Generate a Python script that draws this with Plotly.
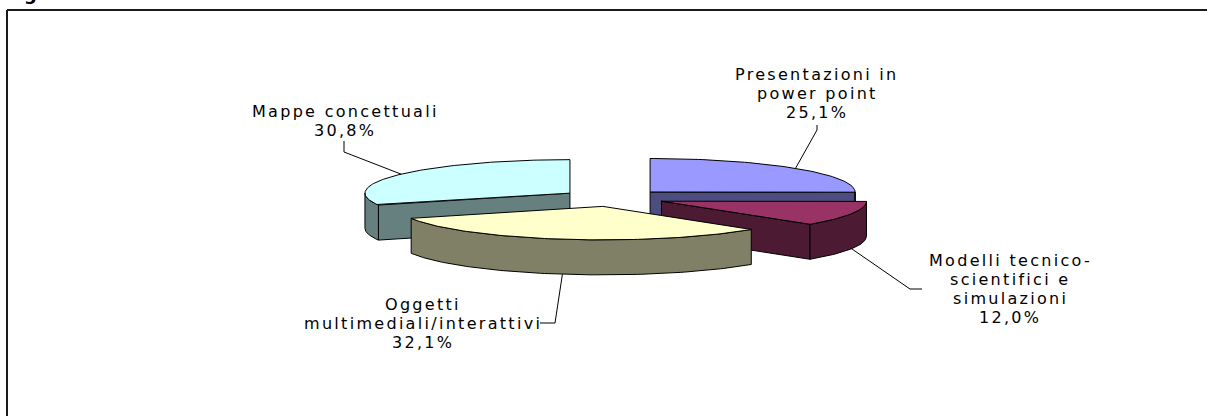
import numpy as np
import plotly.graph_objects as go

# ---- data -------------------------------------------------------------
categories = [
    "Presentazioni in power point",
    "Modelli tecnico-scientifici e simulazioni",
    "Oggetti multimediali/interattivi",
    "Mappe concettuali",
]
label_lines = [
    ["Presentazioni in", "power point"],
    ["Modelli tecnico-", "scientifici e", "simulazioni"],
    ["Oggetti", "multimediali/interattivi"],
    ["Mappe concettuali"],
]
values = [25.1, 12.0, 32.1, 30.8]
top_colors = ["#9999FF", "#993366", "#FFFFCC", "#CCFFFF"]
side_colors = ["#4D4D80", "#4D1A33", "#808066", "#668080"]

# ---- 3-D pie geometry (pixel space) ------------------------------------
W, H = 1207, 416
CX, CY = 613.0, 198.0      # pie centre
RX, RY = 205.0, 33.5       # ellipse radii of the top face
DEPTH = 35.0               # thickness of the pie
EXPLODE = 0.255            # explosion as a fraction of the radius
N_ARC = 80

# label placement: (x centre, y of first line) and leader elbows
label_pos = [(817, 74), (1010, 260), (423, 304), (345, 111)]
leader_elbows = [
    [(817, 130), (817, 125)],
    [(910, 289), (922, 289)],
    [(555, 323), (540, 323)],
    [(344, 152), (344, 141)],
]
LINE_STEP = 19
FONT = dict(family="DejaVu Sans", size=16, color="#000000")
SPACING = "2.3px"


def ell(cx, cy, t_deg, dy=0.0):
    t = np.radians(t_deg)
    return cx + RX * np.sin(t), cy - RY * np.cos(t) + dy


def arc(cx, cy, a, b, dy=0.0):
    ts = np.linspace(a, b, max(3, int(abs(b - a) / 360 * N_ARC * 4)))
    xs, ys = ell(cx, cy, ts, dy)
    return list(xs), list(ys)


total = float(sum(values))
fractions = np.array(values) / total
ends = np.cumsum(fractions) * 360.0
starts = ends - fractions * 360.0
mids = (starts + ends) / 2.0

centres = []
for m in mids:
    r = np.radians(m)
    centres.append((CX + EXPLODE * RX * np.sin(r), CY - EXPLODE * RY * np.cos(r)))

fig = go.Figure()


def poly(xs, ys, fill):
    xs = list(xs) + [xs[0]]
    ys = list(ys) + [ys[0]]
    fig.add_trace(go.Scatter(
        x=xs, y=ys, mode="lines", fill="toself", fillcolor=fill,
        line=dict(color="#000000", width=1), hoverinfo="skip",
        showlegend=False,
    ))


# back slices first
order = sorted(range(len(values)), key=lambda i: centres[i][1])
for i in order:
    cx, cy = centres[i]
    t1, t2 = starts[i], ends[i]

    # radial cut faces facing the viewer
    for t, visible in ((t1, np.sin(np.radians(t1)) < -1e-9),
                       (t2, np.sin(np.radians(t2)) > 1e-9)):
        if visible:
            ex, ey = ell(cx, cy, t)
            poly([cx, ex, ex, cx], [cy, ey, ey + DEPTH, cy + DEPTH], side_colors[i])

    # outer curved wall (front half only)
    a, b = max(t1, 90.0), min(t2, 270.0)
    if b > a:
        tx, ty = arc(cx, cy, a, b)
        bx, by = arc(cx, cy, b, a, DEPTH)
        poly(tx + bx, ty + by, side_colors[i])

    # top face
    ax_, ay_ = arc(cx, cy, t1, t2)
    poly([cx] + ax_, [cy] + ay_, top_colors[i])

# ---- leader lines and labels ----------------------------------------------
annotations = []
for i in range(len(values)):
    cx, cy = centres[i]
    m = mids[i]
    drop = DEPTH if np.cos(np.radians(m)) < 0 else 0.0
    sx, sy = ell(cx, cy, m, drop)
    pts = [(sx, sy)] + leader_elbows[i]
    fig.add_trace(go.Scatter(
        x=[p[0] for p in pts], y=[p[1] for p in pts], mode="lines",
        line=dict(color="#000000", width=1), hoverinfo="skip", showlegend=False,
    ))

    pct = f"{values[i]:.1f}".replace(".", ",") + "%"
    lines = label_lines[i] + [pct]
    x0, y0 = label_pos[i]
    for k, txt in enumerate(lines):
        annotations.append(dict(
            x=x0, y=y0 + k * LINE_STEP, xref="x", yref="y",
            text=f'<span style="letter-spacing:{SPACING}">{txt}</span>',
            showarrow=False, xanchor="center", yanchor="middle",
            font=FONT, borderpad=0,
        ))

# caption fragment at the very top edge
annotations.append(dict(
    x=30, y=5, xref="x", yref="y", text="<b>g</b>", showarrow=False,
    xanchor="center", yanchor="bottom", borderpad=0,
    font=dict(family="DejaVu Sans", size=18, color="#000000"),
))

fig.update_layout(
    width=W, height=H,
    margin=dict(l=0, r=0, t=0, b=0, pad=0),
    paper_bgcolor="#FFFFFF", plot_bgcolor="#FFFFFF",
    xaxis=dict(range=[0, W], visible=False, fixedrange=True),
    yaxis=dict(range=[H, 0], visible=False, fixedrange=True),
    annotations=annotations,
    shapes=[
        dict(type="line", xref="x", yref="y", x0=7, y0=10, x1=W, y1=10,
             line=dict(color="#1A1A1A", width=2)),
        dict(type="line", xref="x", yref="y", x0=7, y0=10, x1=7, y1=H,
             line=dict(color="#1A1A1A", width=2)),
    ],
    showlegend=False,
)

fig.write_html("out.html")
